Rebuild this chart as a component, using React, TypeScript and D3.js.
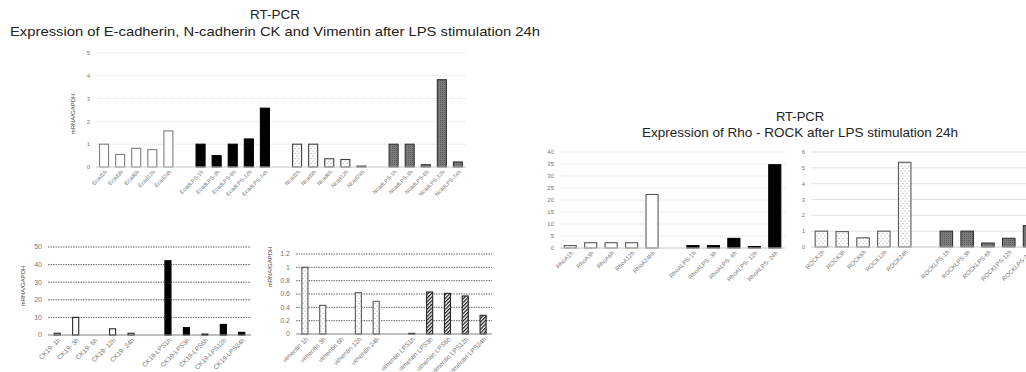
import React, { useEffect, useRef } from 'react';
import * as d3 from 'd3';

// ---- data ----
const ecadLabels = ['Ecad1h', 'Ecad3h', 'Ecad6h', 'Ecad12h', 'Ecad24h'];
const ecadValues = [1.0, 0.55, 0.82, 0.76, 1.58];
const ecadLpsLabels = ['EcadLPS-1h', 'EcadLPS-3h', 'EcadLPS-6h', 'EcadLPS-12h', 'EcadLPS-24h'];
const ecadLpsValues = [1.0, 0.5, 1.0, 1.23, 2.58];
const ncadLabels = ['Ncad1h', 'Ncad3h', 'Ncad6h', 'Ncad12h', 'Ncad24h'];
const ncadValues = [1.0, 1.0, 0.36, 0.33, 0.04];
const ncadLpsLabels = ['NcadLPS-1h', 'NcadLPS-3h', 'NcadLPS-6h', 'NcadLPS-12h', 'NcadLPS-24h'];
const ncadLpsValues = [1.0, 1.0, 0.1, 3.83, 0.22];
const cadTicks = [0, 1, 2, 3, 4, 5];

const ckLabels = ['CK19- 1h', 'CK19- 3h', 'CK19- 6h', 'CK19- 12h', 'CK19- 24h'];
const ckValues = [1.0, 10.0, 0, 3.5, 1.0];
const ckLpsLabels = ['CK19-LPS1h', 'CK19-LPS3h', 'CK19-LPS6h', 'CK19-LPS12h', 'CK19-LPS24h'];
const ckLpsValues = [42.2, 4.2, 0.5, 6.0, 1.5];
const ckTicks = [0, 10, 20, 30, 40, 50];

const vimLabels = ['vimentin 1h', 'vimentin 3h', 'vimentin 6h', 'vimentin 12h', 'vimentin 24h'];
const vimValues = [1.0, 0.43, 0, 0.62, 0.49];
const vimLpsLabels = ['vimentin LPS1h', 'vimentin LPS3h', 'vimentin LPS6h', 'vimentin LPS12h', 'vimentin LPS24h'];
const vimLpsValues = [0.01, 0.63, 0.61, 0.57, 0.28];
const vimTicks = [0, 0.2, 0.4, 0.6, 0.8, 1, 1.2];

const rhoLabels = ['RhoA1h', 'RhoA3h', 'RhoA6h', 'RhoA12h', 'RhoA24hh'];
const rhoValues = [1.0, 2.2, 2.2, 2.2, 22.3];
const rhoLpsLabels = ['RhoALPS-1h', 'RhoALPS- 3h', 'RhoALPS- 6h', 'RhoALPS- 12h', 'RhoALPS- 24h'];
const rhoLpsValues = [1.0, 1.0, 4.0, 0.6, 34.7];
const rhoTicks = [0, 5, 10, 15, 20, 25, 30, 35, 40];

const rockLabels = ['ROCK1h', 'ROCK3h', 'ROCK6h', 'ROCK12h', 'ROCK24h'];
const rockValues = [1.0, 0.97, 0.58, 1.0, 5.35];
const rockLpsLabels = ['ROCKLPS-1h', 'ROCKLPS-3h', 'ROCKLPS-6h', 'ROCKLPS-12h', 'ROCKLPS-24h'];
const rockLpsValues = [1.0, 1.0, 0.25, 0.55, 1.35];
const rockTicks = [0, 1, 2, 3, 4, 5, 6];

const font = 'Liberation Sans, Arial, sans-serif';

// fill / stroke per bar kind
const kinds = {
  white: { fill: '#fff' },
  black: { fill: '#000', stroke: '#000' },
  dots: { fill: 'url(#dots)' },
  gray: { fill: 'url(#xhatch)', stroke: '#333' },
  hatch: { fill: 'url(#hatch)', stroke: '#262626' },
};

const panels = [
  {
    groups: [
      { labels: ecadLabels, values: ecadValues, kind: 'white', stroke: '#7f7f7f' },
      { labels: ecadLpsLabels, values: ecadLpsValues, kind: 'black' },
      { labels: ncadLabels, values: ncadValues, kind: 'dots', stroke: '#404040' },
      { labels: ncadLpsLabels, values: ncadLpsValues, kind: 'gray' },
    ],
    x0: 96, x1: 466, yTop: 53, yBottom: 167, ticks: cadTicks,
    grid: '#d0d0d0', dash: '1,1', axis: '#c8c8c8', pad: 0.44,
    tickSize: 5.5, yTickSize: 6, yLabel: [73, 114], gridEnd: 466,
  },
  {
    groups: [
      { labels: ckLabels, values: ckValues, kind: 'white', stroke: '#262626' },
      { labels: ckLpsLabels, values: ckLpsValues, kind: 'black' },
    ],
    x0: 48, x1: 251, yTop: 247, yBottom: 335, ticks: ckTicks,
    grid: '#404040', dash: '1.5,1', axis: '#808080', pad: 0.67,
    tickSize: 6.5, yTickSize: 7, yLabel: [23, 286], gridEnd: 251,
  },
  {
    groups: [
      { labels: vimLabels, values: vimValues, kind: 'dots', stroke: '#595959' },
      { labels: vimLpsLabels, values: vimLpsValues, kind: 'hatch' },
    ],
    x0: 296, x1: 492, yTop: 254, yBottom: 334, ticks: vimTicks,
    grid: '#404040', dash: '1.5,1', axis: '#808080', pad: 0.66,
    tickSize: 6.5, yTickSize: 7, yLabel: [270, 267], gridEnd: 492,
  },
  {
    groups: [
      { labels: rhoLabels, values: rhoValues, kind: 'white', stroke: '#595959' },
      { labels: rhoLpsLabels, values: rhoLpsValues, kind: 'black' },
    ],
    x0: 560, x1: 785, yTop: 152, yBottom: 248, ticks: rhoTicks,
    grid: '#d0d0d0', dash: '1,1', axis: '#c8c8c8', pad: 0.41,
    tickSize: 6, yTickSize: 6, yLabel: null, gridEnd: 785,
  },
  {
    groups: [
      { labels: rockLabels, values: rockValues, kind: 'dots', stroke: '#595959' },
      { labels: rockLpsLabels, values: rockLpsValues, kind: 'gray' },
    ],
    x0: 811, x1: 1040, yTop: 152, yBottom: 247, ticks: rockTicks,
    grid: '#d9d9d9', dash: null, axis: '#c8c8c8', pad: 0.4,
    tickSize: 6, yTickSize: 6, yLabel: null, gridEnd: 1026,
  },
];

const App = () => {
  const svgRef = useRef<SVGSVGElement>(null);
  const width = 1026;
  const height = 372;

  useEffect(() => {
    const svg = d3.select(svgRef.current);
    svg.selectAll('*').remove();

    const defs = svg.append('defs');
    const dots = defs.append('pattern').attr('id', 'dots').attr('width', 4).attr('height', 5)
      .attr('patternUnits', 'userSpaceOnUse');
    dots.append('rect').attr('width', 4).attr('height', 5).attr('fill', '#fff');
    dots.append('circle').attr('cx', 1).attr('cy', 1).attr('r', 0.45).attr('fill', '#444');
    dots.append('circle').attr('cx', 3).attr('cy', 3.5).attr('r', 0.45).attr('fill', '#444');

    const hatch = defs.append('pattern').attr('id', 'hatch').attr('width', 2.6).attr('height', 2.6)
      .attr('patternUnits', 'userSpaceOnUse').attr('patternTransform', 'rotate(45)');
    hatch.append('rect').attr('width', 2.6).attr('height', 2.6).attr('fill', '#fff');
    hatch.append('line').attr('x1', 0).attr('y1', 0).attr('x2', 0).attr('y2', 2.6)
      .attr('stroke', '#111').attr('stroke-width', 2.4);

    const xh = defs.append('pattern').attr('id', 'xhatch').attr('width', 2).attr('height', 2)
      .attr('patternUnits', 'userSpaceOnUse');
    xh.append('rect').attr('width', 2).attr('height', 2).attr('fill', '#7c7c7c');
    xh.append('rect').attr('width', 1).attr('height', 1).attr('fill', '#5a5a5a');

    // titles
    const titles = [
      { x: 275, y1: 19, y2: 36, line2: 'Expression of E-cadherin, N-cadherin CK and Vimentin after LPS stimulation 24h', len: 530, size: 13.5 },
      { x: 800, y1: 121, y2: 137, line2: 'Expression of Rho - ROCK after LPS stimulation 24h', len: 316, size: 13 },
    ];
    titles.forEach(t => {
      svg.append('text').attr('x', t.x).attr('y', t.y1).attr('text-anchor', 'middle')
        .attr('font-family', font).attr('font-size', t.size).attr('fill', '#222').text('RT-PCR');
      svg.append('text').attr('x', t.x).attr('y', t.y2).attr('text-anchor', 'middle')
        .attr('font-family', font).attr('font-size', t.size).attr('fill', '#222')
        .attr('textLength', t.len).attr('lengthAdjust', 'spacingAndGlyphs').text(t.line2);
    });

    panels.forEach(p => {
      const g = svg.append('g');
      const slots: string[] = [];
      const bars: { label: string; value: number; kind: string; stroke?: string }[] = [];
      p.groups.forEach((gr, i) => {
        if (i > 0) slots.push(`__gap${i}`);
        gr.labels.forEach((l, j) => {
          slots.push(l);
          bars.push({ label: l, value: gr.values[j], kind: gr.kind, stroke: gr.stroke });
        });
      });

      const xScale = d3.scaleBand().domain(slots).range([p.x0, p.x1])
        .paddingInner(p.pad).paddingOuter(p.pad / 2);
      const yScale = d3.scaleLinear().domain([0, p.ticks[p.ticks.length - 1]])
        .range([p.yBottom, p.yTop]);

      // gridlines
      g.selectAll('line.grid').data(p.ticks.filter(t => t > 0)).join('line')
        .attr('class', 'grid')
        .attr('x1', p.x0).attr('x2', p.gridEnd)
        .attr('y1', d => yScale(d)).attr('y2', d => yScale(d))
        .attr('stroke', p.grid).attr('stroke-width', 0.8)
        .attr('stroke-dasharray', p.dash);

      // y tick labels
      g.selectAll('text.ytick').data(p.ticks).join('text')
        .attr('class', 'ytick')
        .attr('x', p.x0 - 6).attr('y', d => yScale(d))
        .attr('dy', '0.35em').attr('text-anchor', 'end')
        .attr('font-family', font).attr('font-size', p.yTickSize).attr('fill', '#777')
        .text(d => String(d));

      // bars
      g.selectAll('rect.bar').data(bars).join('rect')
        .attr('class', 'bar')
        .attr('x', d => xScale(d.label)!)
        .attr('width', xScale.bandwidth())
        .attr('y', d => yScale(d.value))
        .attr('height', d => yScale(0) - yScale(d.value))
        .attr('fill', d => kinds[d.kind].fill)
        .attr('stroke', d => d.stroke || kinds[d.kind].stroke)
        .attr('stroke-width', 1.1);

      // baseline
      g.append('line')
        .attr('x1', p.x0).attr('x2', p.gridEnd)
        .attr('y1', yScale(0)).attr('y2', yScale(0))
        .attr('stroke', p.axis).attr('stroke-width', 1);

      // x tick labels
      g.selectAll('text.xtick').data(bars).join('text')
        .attr('class', 'xtick')
        .attr('transform', d => `translate(${xScale(d.label)! + xScale.bandwidth() / 2 + 2},${yScale(0) + 4}) rotate(-45)`)
        .attr('text-anchor', 'end').attr('dy', '0.35em')
        .attr('font-family', font).attr('font-size', p.tickSize).attr('fill', '#777')
        .text(d => d.label);

      if (p.yLabel) {
        g.append('text')
          .attr('transform', `translate(${p.yLabel[0]},${p.yLabel[1]}) rotate(-90)`)
          .attr('text-anchor', 'middle').attr('dy', '0.35em')
          .attr('font-family', font).attr('font-size', 6).attr('fill', '#444')
          .text('mRNA/GAPDH');
      }
    });
  }, []);

  return (
    <svg ref={svgRef} width={width} height={height}
      style={{ position: 'absolute', left: 0, top: 0, background: '#fff' }} />
  );
};

export default App;
